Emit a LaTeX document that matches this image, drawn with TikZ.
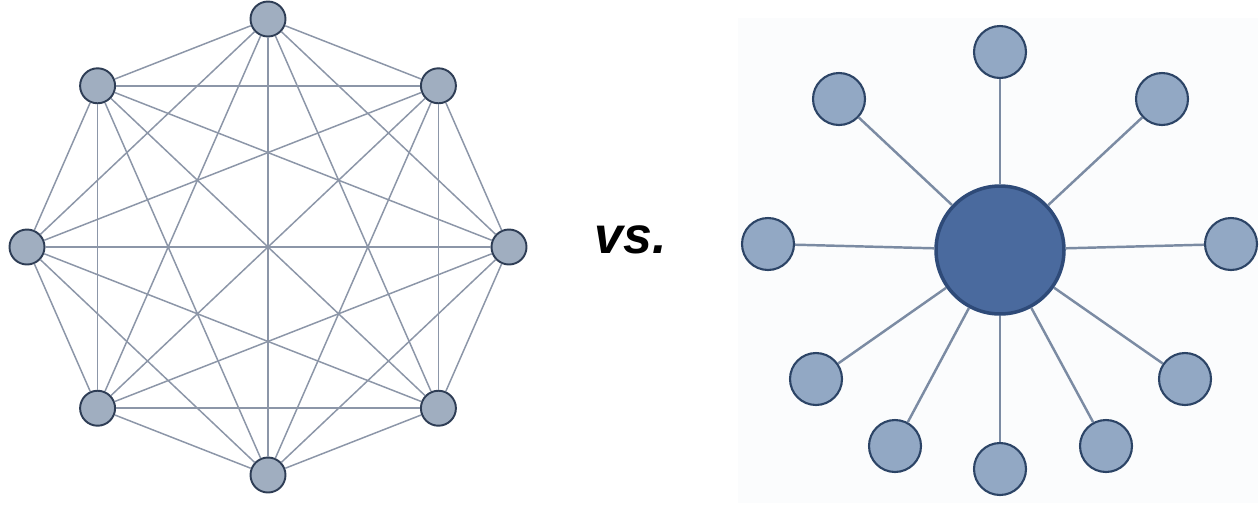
\documentclass[tikz,border=0pt]{standalone}
\usepackage{fontspec}
\setmainfont{Liberation Sans}
\usepackage{xcolor}
\usepackage{tikz}
\usetikzlibrary{positioning}

\definecolor{peerfill}{RGB}{160,174,192}
\definecolor{peerline}{RGB}{46,61,85}
\definecolor{meshline}{RGB}{140,150,168}
\definecolor{leaffill}{RGB}{146,168,196}
\definecolor{leafline}{RGB}{44,68,102}
\definecolor{hubfill}{RGB}{74,106,158}
\definecolor{hubline}{RGB}{46,74,120}
\definecolor{spokeline}{RGB}{123,139,163}
\definecolor{panelbg}{RGB}{251,252,253}

\begin{document}
\begin{tikzpicture}[
    x=0.02cm, y=-0.02cm,
    peer/.style={circle, draw=peerline, line width=1.1pt, fill=peerfill, minimum size=0.7cm, inner sep=0pt},
    leaf/.style={circle, draw=leafline, line width=1.2pt, fill=leaffill, minimum size=1.04cm, inner sep=0pt},
    hub/.style={circle, draw=hubline, line width=2pt, fill=hubfill, minimum size=2.56cm, inner sep=0pt},
    mesh/.style={draw=meshline, line width=0.85pt},
    spoke/.style={draw=spokeline, line width=1.4pt},
]
    \useasboundingbox (0,0) rectangle (1260,505);
    \fill[panelbg] (738,18) rectangle (1258,503);

    % fully connected mesh
    \foreach \i in {0,...,7}
        \node[peer] (p\i) at ({268+241*cos(45*\i)},{247-228*sin(45*\i)}) {};
    \foreach \i in {0,...,6} {
        \pgfmathtruncatemacro\nxt{\i+1}
        \foreach \j in {\nxt,...,7}
            \draw[mesh] (p\i) -- (p\j);
    }

    \node[font=\fontsize{29.5}{32}\selectfont\bfseries\itshape] (vs) at (631,240) {vs.};

    % star around one hub
    \node[hub] (hub) at (1000,250) {};
    \node[leaf] (s1) at (1000,52) {};
    \node[leaf] (s2) at (1162,99) {};
    \node[leaf] (s3) at (1231,244) {};
    \node[leaf] (s4) at (1185,379) {};
    \node[leaf] (s5) at (1106,446) {};
    \node[leaf] (s6) at (1000,469) {};
    \node[leaf] (s7) at (895,446) {};
    \node[leaf] (s8) at (816,379) {};
    \node[leaf] (s9) at (768,244) {};
    \node[leaf] (s10) at (839,99) {};
    \foreach \k in {1,...,10}
        \draw[spoke] (hub) -- (s\k);
\end{tikzpicture}
\end{document}
